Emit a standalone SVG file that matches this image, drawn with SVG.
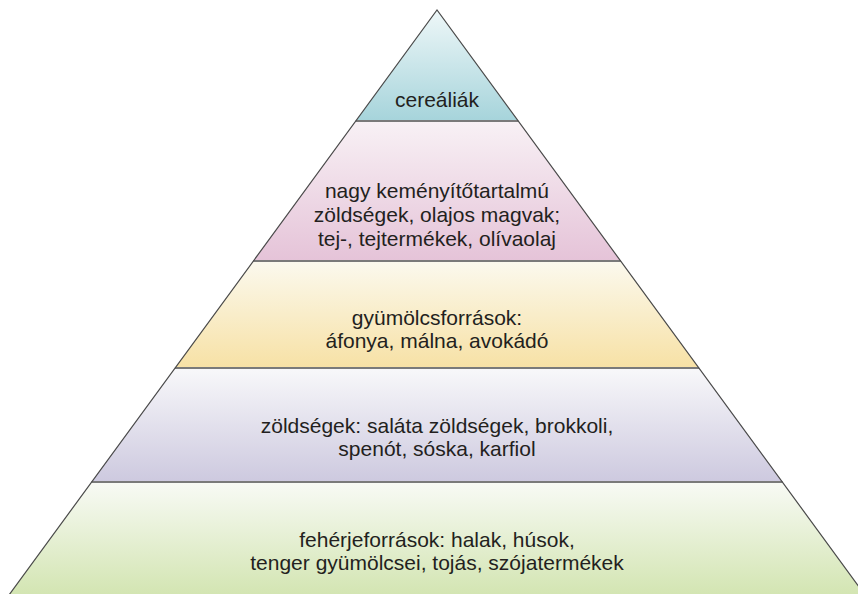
<svg xmlns="http://www.w3.org/2000/svg" width="858" height="594" viewBox="0 0 858 594">
  <defs>
    <linearGradient id="gCyan" x1="0" y1="0" x2="0" y2="1">
      <stop offset="0" stop-color="#eef7f8"/>
      <stop offset="1" stop-color="#a6d4db"/>
    </linearGradient>
    <linearGradient id="gPink" x1="0" y1="0" x2="0" y2="1">
      <stop offset="0" stop-color="#f8f1f5"/>
      <stop offset="1" stop-color="#e5c3d8"/>
    </linearGradient>
    <linearGradient id="gYellow" x1="0" y1="0" x2="0" y2="1">
      <stop offset="0" stop-color="#fbf9ee"/>
      <stop offset="1" stop-color="#f7e1a5"/>
    </linearGradient>
    <linearGradient id="gLavender" x1="0" y1="0" x2="0" y2="1">
      <stop offset="0" stop-color="#f8f8fa"/>
      <stop offset="1" stop-color="#cdc9df"/>
    </linearGradient>
    <linearGradient id="gGreen" x1="0" y1="0" x2="0" y2="1">
      <stop offset="0" stop-color="#f8faf5"/>
      <stop offset="1" stop-color="#d3e5b2"/>
    </linearGradient>
  </defs>
  <style>
    .label { font-family: "Liberation Sans", Arial, Helvetica, sans-serif; font-size: 21px; fill: #231f20; text-anchor: middle; }
    .sep { stroke: #7a7a7a; stroke-width: 2; fill: none; }
    .edge { stroke: #4a4a4a; stroke-width: 1.2; fill: none; }
  </style>

  <rect width="858" height="594" fill="#ffffff"/>

  <!-- pyramid tiers, top to bottom -->
  <g id="tier-cereals">
    <polygon points="437,10 518.3,121 355.7,121" fill="url(#gCyan)"/>
    <text class="label" x="437" y="107">cereáliák</text>
  </g>
  <g id="tier-starch">
    <polygon points="355.7,121 518.3,121 620.7,261 253.3,261" fill="url(#gPink)"/>
    <text class="label" x="437" y="198">nagy keményítőtartalmú</text>
    <text class="label" x="437" y="222">zöldségek, olajos magvak;</text>
    <text class="label" x="437" y="246">tej-, tejtermékek, olívaolaj</text>
  </g>
  <g id="tier-fruit">
    <polygon points="253.3,261 620.7,261 699.1,368 174.9,368" fill="url(#gYellow)"/>
    <text class="label" x="437" y="325">gyümölcsforrások:</text>
    <text class="label" x="437" y="348">áfonya, málna, avokádó</text>
  </g>
  <g id="tier-vegetables">
    <polygon points="174.9,368 699.1,368 782.5,482 91.5,482" fill="url(#gLavender)"/>
    <text class="label" x="437" y="433">zöldségek: saláta zöldségek, brokkoli,</text>
    <text class="label" x="437" y="456">spenót, sóska, karfiol</text>
  </g>
  <g id="tier-protein">
    <polygon points="91.5,482 782.5,482 865,595 9,595" fill="url(#gGreen)"/>
    <text class="label" x="437" y="547">fehérjeforrások: halak, húsok,</text>
    <text class="label" x="437" y="570">tenger gyümölcsei, tojás, szójatermékek</text>
  </g>

  <!-- tier dividers and outer outline -->
  <g id="connectors">
    <line class="sep" x1="355.7" y1="121" x2="518.3" y2="121"/>
    <line class="sep" x1="253.3" y1="261" x2="620.7" y2="261"/>
    <line class="sep" x1="174.9" y1="368" x2="699.1" y2="368"/>
    <line class="sep" x1="91.5" y1="482" x2="782.5" y2="482"/>
    <polyline class="edge" points="9,595 437,10 865,595"/>
  </g>
</svg>
